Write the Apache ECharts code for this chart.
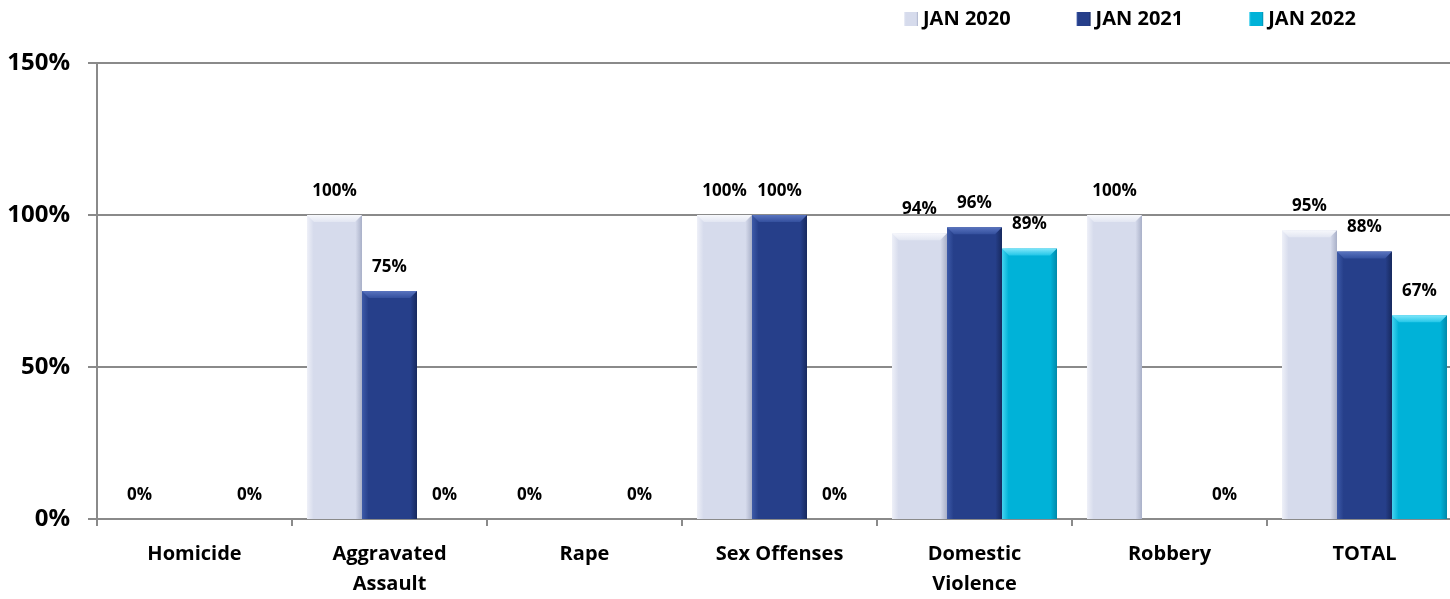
<!DOCTYPE html>
<html>
<head>
<meta charset="utf-8">
<script src="https://cdn.jsdelivr.net/npm/echarts@6/dist/echarts.min.js"></script>
<style>
  html, body { margin: 0; padding: 0; background: #ffffff; overflow: hidden; }
  /* plot area runs slightly past the right edge of the page */
  #wrap { width: 1450px; height: 599px; overflow: hidden; }
  #chart { width: 1462px; height: 599px; }
</style>
</head>
<body>
<div id="wrap"><div id="chart"></div></div>
<script>
// Clearance rates by offense category, January of each year (%)
const categories = ['Homicide', 'Aggravated\nAssault', 'Rape', 'Sex Offenses', 'Domestic\nViolence', 'Robbery', 'TOTAL'];
const seriesNames = ['JAN 2020', 'JAN 2021', 'JAN 2022'];
const jan2020 = [0, 100, 0, 100, 94, 100, 95];
const jan2021 = [null, 75, null, 100, 96, null, 88];
const jan2022 = [0, 0, 0, 0, 89, 0, 67];
const yTicks = { min: 0, max: 150, interval: 50 };

const FONT = '"Open Sans"';
const BAR_W = 55;
const BEVEL = 7;

// bevelled look: lighter left edge, darker right edge
function bevel(light, base, dark) {
  return new echarts.graphic.LinearGradient(0, 0, 1, 0, [
    { offset: 0, color: light },
    { offset: 0.12, color: base },
    { offset: 0.88, color: base },
    { offset: 1, color: dark }
  ]);
}

const fills = [
  bevel('#eef0f8', '#d6dbec', '#a9b0c8'),
  bevel('#3d5aa8', '#263f8a', '#17295e'),
  bevel('#45d3f0', '#00b2d8', '#0089aa')
];
const capColors = [
  ['#f7f8fc', '#e2e6f2'],
  ['#5a74bf', '#34509e'],
  ['#7fe6fa', '#22c6e8']
];

function makeSeries(name, data, i) {
  return {
    name: name,
    type: 'bar',
    data: data,
    barWidth: BAR_W,
    barGap: '0%',
    itemStyle: { color: fills[i] },
    label: {
      show: true,
      position: 'top',
      distance: 15,
      formatter: p => p.value + '%',
      color: '#000000',
      fontFamily: FONT,
      fontWeight: 'bold',
      fontSize: 17,
      lineHeight: 18
    }
  };
}

// chamfered top face drawn over each non-zero bar
function makeCap(data, i) {
  const pts = [];
  data.forEach((v, c) => { if (v) pts.push([c, v]); });
  return {
    type: 'custom',
    silent: true,
    z: 3,
    data: pts,
    renderItem: (params, api) => {
      const top = api.coord([api.value(0), api.value(1)]);
      const xc = top[0] + (i - 1) * BAR_W;
      const l = xc - BAR_W / 2, r = xc + BAR_W / 2, y = top[1];
      return {
        type: 'polygon',
        shape: { points: [[l, y], [r, y], [r - BEVEL, y + BEVEL], [l + BEVEL, y + BEVEL]] },
        style: {
          fill: new echarts.graphic.LinearGradient(0, 0, 0, 1, [
            { offset: 0, color: capColors[i][0] },
            { offset: 1, color: capColors[i][1] }
          ])
        }
      };
    }
  };
}

const chart = echarts.init(document.getElementById('chart'), null, { renderer: 'canvas' });
chart.setOption({
  animation: false,
  backgroundColor: '#ffffff',
  legend: {
    top: 4,
    left: 899,
    itemWidth: 14,
    itemHeight: 14,
    itemGap: 66,
    icon: 'rect',
    textStyle: { fontFamily: FONT, fontWeight: 'bold', fontSize: 20, color: '#000000' },
    data: seriesNames
  },
  grid: { left: 97, top: 63, right: 0, bottom: 78, containLabel: false },
  xAxis: {
    type: 'category',
    data: categories,
    axisLine: { lineStyle: { color: '#8a8a8a', width: 2 } },
    axisTick: { show: true, length: 7, lineStyle: { color: '#8a8a8a', width: 2 } },
    axisLabel: {
      color: '#000000',
      fontFamily: FONT,
      fontWeight: 'bold',
      fontSize: 20,
      lineHeight: 30,
      margin: 20,
      interval: 0
    }
  },
  yAxis: {
    type: 'value',
    min: yTicks.min,
    max: yTicks.max,
    interval: yTicks.interval,
    axisLine: { show: true, lineStyle: { color: '#8a8a8a', width: 2 } },
    axisTick: { show: true, length: 9, lineStyle: { color: '#8a8a8a', width: 2 } },
    splitLine: { show: true, lineStyle: { color: '#8a8a8a', width: 2 } },
    axisLabel: {
      formatter: '{value}%',
      color: '#000000',
      fontFamily: FONT,
      fontWeight: 'bold',
      fontSize: 24,
      margin: 27
    }
  },
  series: [
    makeSeries(seriesNames[0], jan2020, 0),
    makeSeries(seriesNames[1], jan2021, 1),
    makeSeries(seriesNames[2], jan2022, 2),
    makeCap(jan2020, 0),
    makeCap(jan2021, 1),
    makeCap(jan2022, 2)
  ]
});
</script>
</body>
</html>
